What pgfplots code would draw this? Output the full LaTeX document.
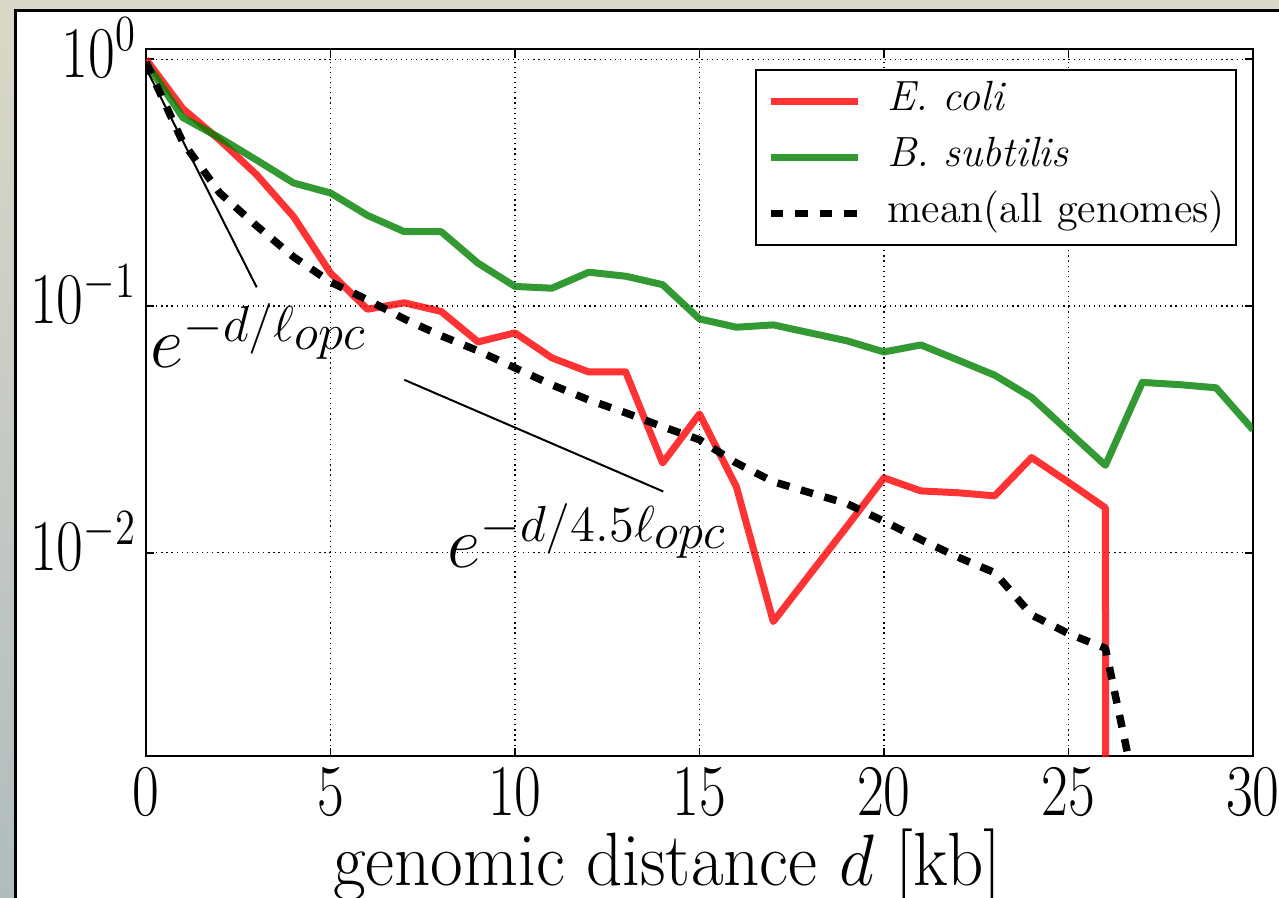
\documentclass[border=0pt]{standalone}
\usepackage{pgfplots}
\pgfplotsset{compat=1.18}
\usepackage{graphicx}

\definecolor{slidetop}{RGB}{218,216,200}
\definecolor{slidebot}{RGB}{176,188,190}
\definecolor{mplgreen}{RGB}{0,128,0}

\newcommand{\xl}[1]{\scalebox{0.8}[1]{$#1$}}
\newcommand{\yl}[1]{\scalebox{0.8}[1]{$10^{#1}$}}

\begin{document}
\begin{tikzpicture}
% slide background and white panel
\shade[top color=slidetop, bottom color=slidebot] (-14.6mm,-14.2mm) rectangle (113.3mm,75.6mm);
\filldraw[fill=white, draw=black, line width=0.27mm] (-13.05mm,74.55mm) rectangle (130mm,-30mm);

\begin{axis}[
  width=110.7mm, height=70.7mm, scale only axis,
  xmin=0, xmax=30, ymode=log, ymin=0.0015, ymax=1.1,
  axis line style={line width=0.7pt},
  xtick={0,5,...,30},
  xticklabels={\xl{0},\xl{5},\xl{10},\xl{15},\xl{20},\xl{25},\xl{30}},
  ytick={1,0.1,0.01},
  yticklabels={\yl{0},\yl{-1},\yl{-2}},
  tick align=inside,
  major tick length=0.85mm, minor tick length=0.45mm,
  every tick/.style={black, line width=0.5pt},
  grid=major,
  major grid style={black, line width=0.35pt, dash pattern=on 0.35pt off 1.1pt},
  xticklabel style={font=\fontsize{19.5}{22}\selectfont, inner sep=0pt, anchor=north, yshift=-1.2mm},
  yticklabel style={font=\fontsize{19.5}{22}\selectfont, inner sep=0pt, anchor=base east, xshift=-0.9mm, yshift=-1.8mm},
  xlabel={\scalebox{0.94}[1]{genomic distance $d$ [kb]}},
  xlabel style={font=\fontsize{21.5}{24}\selectfont, at={(axis description cs:0.471,0)}, anchor=base, yshift=-12.9mm, inner sep=0pt},
  legend style={at={(0.9855,0.9717)}, anchor=north east, draw=black, line width=0.6pt, fill=white,
    font=\fontsize{12}{14}\selectfont, inner xsep=1.1mm, inner ysep=1.4mm, row sep=2.1mm, column sep=2.6mm,
    nodes={inner sep=0pt, text height=2.6mm, text depth=0.9mm}},
  legend cell align=left,
  legend image code/.code={\draw[#1] (0mm,0mm) -- (8.7mm,0mm);},
  clip=true,
]

\addplot[red, draw opacity=0.8, line width=0.7mm, line join=round] coordinates {
  (0,1.0) (1,0.63) (2,0.47) (3,0.34) (4,0.23) (5,0.136) (6,0.097) (7,0.103)
  (8,0.095) (9,0.0715) (10,0.0778) (11,0.0616) (12,0.054) (13,0.054) (14,0.0231)
  (15,0.0365) (16,0.0185) (17,0.00526) (18,0.0082) (19,0.0128) (20,0.0201)
  (21,0.0178) (22,0.0175) (23,0.017) (24,0.0243) (25,0.0193) (26,0.0152) (26.02,0.00001)
};
\addlegendentry{\textit{E. coli}}

\addplot[mplgreen, draw opacity=0.8, line width=0.7mm, line join=round] coordinates {
  (0,0.97) (1,0.58) (2,0.48) (3,0.39) (4,0.315) (5,0.287) (6,0.233) (7,0.2)
  (8,0.2) (9,0.149) (10,0.12) (11,0.118) (12,0.137) (13,0.132) (14,0.122)
  (15,0.0886) (16,0.082) (17,0.0838) (18,0.0778) (19,0.0722) (20,0.0651)
  (21,0.0695) (22,0.0604) (23,0.0524) (24,0.0426) (25,0.031) (26,0.0226)
  (27,0.049) (28,0.048) (29,0.0466) (30,0.0315)
};
\addlegendentry{\textit{B. subtilis}}

\addplot[black, line width=0.75mm, dash pattern=on 1.25mm off 1.2mm, line join=round] coordinates {
  (0,0.97) (1,0.46) (2,0.287) (3,0.211) (4,0.158) (5,0.125) (6,0.106) (7,0.0886)
  (8,0.0757) (9,0.0658) (10,0.0561) (11,0.0479) (12,0.0416) (13,0.0369)
  (14,0.0324) (15,0.0287) (16,0.0231) (17,0.0194) (18,0.0175) (19,0.0158)
  (20,0.0134) (21,0.0113) (22,0.0096) (23,0.0083) (24,0.0056) (25,0.0047)
  (26,0.0041) (27,0.0008)
};
\addlegendentry{mean(all genomes)}

% exponential guides
\addplot[black, line width=0.2mm, forget plot] coordinates {(0,0.92) (3,0.119)};
\addplot[black, line width=0.2mm, forget plot] coordinates {(7,0.0502) (14.02,0.0177)};

\node[anchor=base west, inner sep=0pt, font=\fontsize{22.5}{26}\selectfont] at (axis cs:0.11,0.0561) {$e^{-d/\ell_{\scriptstyle opc}}$};
\node[anchor=base west, inner sep=0pt, font=\fontsize{22.5}{26}\selectfont] at (axis cs:8.16,0.00869) {$e^{-d/4.5\ell_{\scriptstyle opc}}$};
\end{axis}

\pgfresetboundingbox
\path[use as bounding box] (-14.6mm,-14.2mm) rectangle (113.3mm,75.6mm);
\end{tikzpicture}
\end{document}
